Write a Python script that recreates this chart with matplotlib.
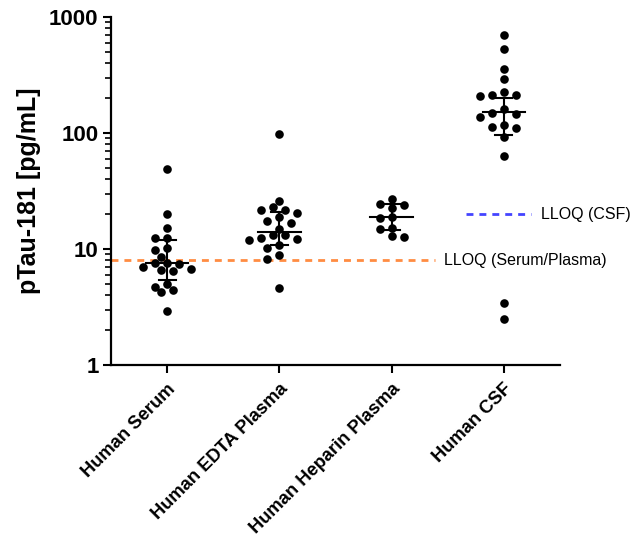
import numpy as np
import matplotlib
matplotlib.use("Agg")
import matplotlib.pyplot as plt
from matplotlib.ticker import FixedLocator, LogLocator, NullFormatter

plt.rcParams['font.family'] = ['Liberation Sans', 'DejaVu Sans']
plt.rcParams['lines.scale_dashes'] = False

categories = ["Human Serum", "Human EDTA Plasma", "Human Heparin Plasma", "Human CSF"]

serum = [48.5, 19.9, 15.1, 12.5, 12.5, 10.1, 9.75, 8.6, 7.5, 7.5, 7.4, 7.06,
         6.78, 6.6, 6.43, 5.04, 4.75, 4.42, 4.22, 2.93]
edta = [98.8, 25.9, 23.0, 21.6, 21.5, 20.3, 18.8, 17.3, 16.9, 14.8, 13.1, 13.1,
        12.5, 12.1, 11.9, 10.8, 10.1, 8.83, 8.15, 4.57]
heparin = [26.8, 24.1, 24.4, 22.4, 18.5, 19.0, 15.0, 15.3, 12.8, 12.9]
csf = [706, 528, 359, 292, 208, 211, 214, 224, 145, 148, 162, 138, 118, 110,
       112, 91.5, 62.9, 3.45, 2.50]
groups = [serum, edta, heparin, csf]

# median and interquartile range as drawn
medians = [7.52, 14.0, 18.8, 152]
q1 = [5.41, 10.9, 14.6, 95.7]
q3 = [11.9, 21.0, 24.2, 201]

lloq_serum_plasma = 8.0
lloq_csf = 20.0
lloq_labels = ["LLOQ (Serum/Plasma)", "LLOQ (CSF)"]

yticks = [1, 10, 100, 1000]

fig = plt.figure(figsize=(6.42, 5.40), dpi=100)
ax = fig.add_axes([111 / 642, 1 - 365 / 540, (560 - 111) / 642, (365 - 17) / 540])
ax.set_yscale('log')
ax.set_ylim(1, 1000)
ax.set_xlim(-0.5, 3.5)

# beeswarm placement in display space
diam_px = 8.2
step_px = 6.0
fig.canvas.draw()
px_per_x = ax.transData.transform((1, 1))[0] - ax.transData.transform((0, 1))[0]

for gi, vals in enumerate(groups):
    vals_sorted = sorted(vals, reverse=True)
    placed = []  # (xpx offset, ypx)
    xs = []
    for v in vals_sorted:
        ypx = ax.transData.transform((gi, v))[1]
        cands = [0]
        for k in range(1, 20):
            cands += [-k, k]
        for c in cands:
            xo = c * step_px
            ok = True
            for (px, py) in placed:
                if (px - xo) ** 2 + (py - ypx) ** 2 < diam_px ** 2:
                    ok = False
                    break
            if ok:
                placed.append((xo, ypx))
                xs.append(gi + xo / px_per_x)
                break
    ax.plot(xs, vals_sorted, 'o', color='black', ms=6.2, mec='black', mew=0,
            linestyle='none', zorder=3, clip_on=False)

# median + IQR
for gi in range(len(groups)):
    ax.plot([gi, gi], [q1[gi], q3[gi]], color='black', lw=1.5, zorder=4)
    ax.plot([gi - 0.075, gi + 0.075], [q1[gi]] * 2, color='black', lw=1.5, zorder=4)
    ax.plot([gi - 0.075, gi + 0.075], [q3[gi]] * 2, color='black', lw=1.5, zorder=4)
    ax.plot([gi - 0.19, gi + 0.19], [medians[gi]] * 2, color='black', lw=1.5, zorder=4)

# LLOQ lines
ax.plot([-0.5, 2.39], [lloq_serum_plasma] * 2, color='#FF8C42', lw=2.0,
        dashes=(5.0, 4.3), zorder=2, clip_on=False)
ax.text(2.47, lloq_serum_plasma, lloq_labels[0], fontsize=11.5, va='center',
        ha='left', clip_on=False)
ax.plot([2.66, 3.24], [lloq_csf] * 2, color='#4444FF', lw=2.0,
        dashes=(5.0, 4.3), zorder=2, clip_on=False)
ax.text(3.33, lloq_csf, lloq_labels[1], fontsize=11.5, va='center',
        ha='left', clip_on=False)

# axes styling
for s in ['top', 'right']:
    ax.spines[s].set_visible(False)
for s in ['left', 'bottom']:
    ax.spines[s].set_linewidth(1.6)

ax.yaxis.set_major_locator(FixedLocator(yticks))
ax.set_yticklabels([str(t) for t in yticks], fontsize=16, fontweight='bold')
ax.yaxis.set_minor_locator(LogLocator(base=10, subs=np.arange(2, 10)))
ax.yaxis.set_minor_formatter(NullFormatter())
ax.tick_params(axis='y', which='major', length=6, width=1.5, direction='out', pad=3)
ax.tick_params(axis='y', which='minor', length=4, width=1.2, direction='out')

ax.set_xticks(range(len(categories)))
ax.set_xticklabels(categories, rotation=45, ha='right', rotation_mode='anchor',
                   fontsize=13.2, fontweight='bold')
ax.tick_params(axis='x', which='major', length=6, width=1.5, direction='out', pad=5)

ax.set_ylabel("pTau-181 [pg/mL]", fontsize=18, fontweight='bold', labelpad=6)

fig.savefig("out.png", dpi=100)
